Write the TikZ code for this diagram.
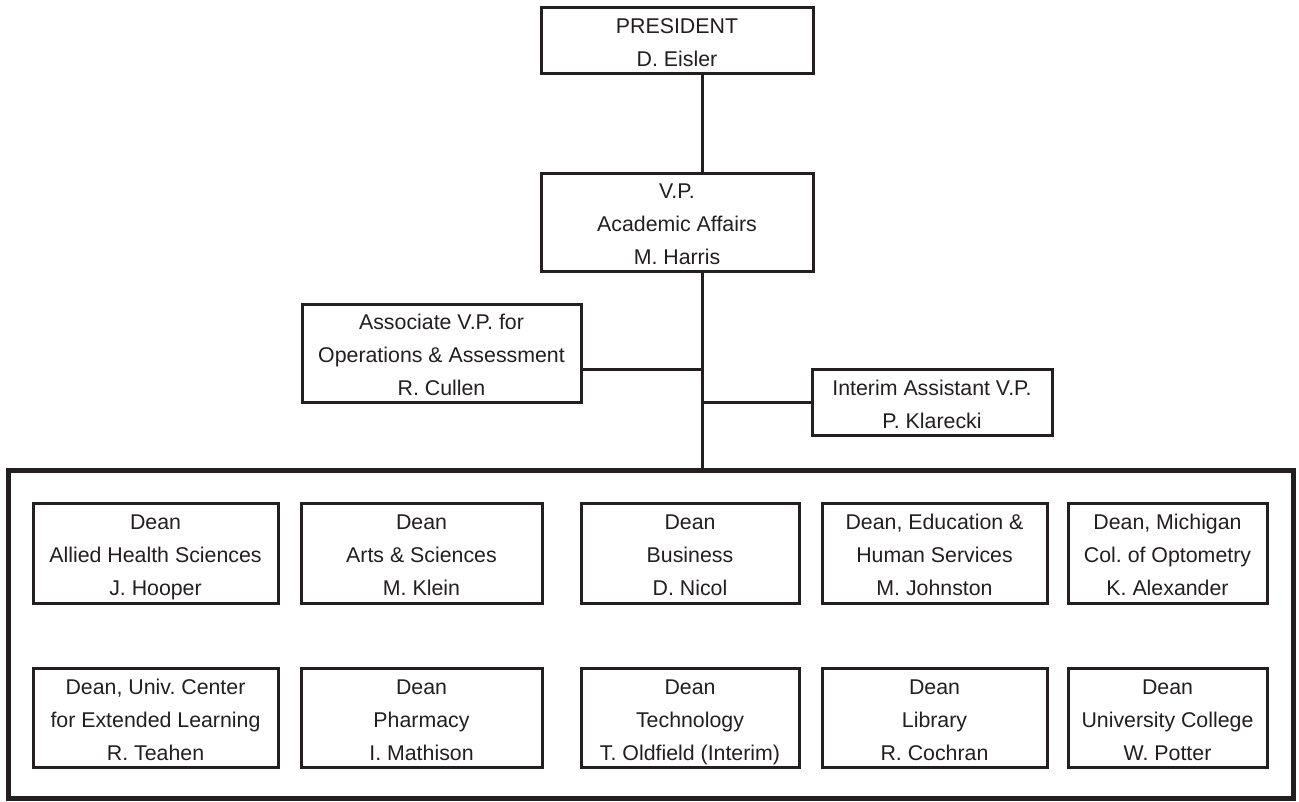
\documentclass[tikz,border=0pt]{standalone}
\usepackage{fontspec}
\setmainfont{Liberation Sans}
\definecolor{ink}{RGB}{35,31,32}
\newcommand\topst{\rule{0pt}{18pt}}
\newcommand\botst{\rule[-3.75pt]{0pt}{3.75pt}}
\frenchspacing
\begin{document}
\begin{tikzpicture}[x=0.75pt,y=-0.75pt,
  box/.style={draw=ink, text=ink, line width=2.25pt, inner sep=0pt, align=center,
    font=\fontsize{16}{24.75}\selectfont\frenchspacing},
  frame/.style={draw=ink, line width=3.75pt, inner sep=0pt},
  link/.style={draw=ink, line width=2.25pt},
  r1/.style={box, minimum height=75pt},
  r2/.style={box, minimum height=74.25pt}]
\useasboundingbox[fill=white] (0,0) rectangle (1299,801);
\coordinate (spine) at (702,0);
\node[box, minimum width=204pt, minimum height=49.5pt] (pres) at (677,40) {\topst PRESIDENT\\D. Eisler\botst};
\node[box, minimum width=204pt, minimum height=73.5pt] (vp) at (677,222) {\topst V.P.\\Academic Affairs\\M. Harris\botst};
\node[box, minimum width=209.25pt, minimum height=73.5pt] (assoc) at (441.5,353) {\topst Associate V.P. for\\Operations \& Assessment\\R. Cullen\botst};
\node[box, minimum width=180pt, minimum height=49.5pt] (interim) at (932,402) {\topst Interim Assistant V.P.\\P. Klarecki\botst};
\node[frame, minimum width=963.75pt, minimum height=246pt] (deans) at (650.5,634) {};
\coordinate (ja) at (702,369);
% row 1
\node[r1, minimum width=183.75pt] (d1) at (155.5,553) {\topst Dean\\Allied Health Sciences\\J. Hooper\botst};
\node[r1, minimum width=180.75pt] (d2) at (421.5,553) {\topst Dean\\Arts \& Sciences\\M. Klein\botst};
\node[r1, minimum width=163.5pt] (d3) at (690,553) {\topst Dean\\Business\\D. Nicol\botst};
\node[r1, minimum width=168.75pt] (d4) at (934.5,553) {\topst Dean, Education \&\\Human Services\\M. Johnston\botst};
\node[r1, minimum width=149.25pt] (d5) at (1167.5,553) {\topst Dean, Michigan\\Col. of Optometry\\K. Alexander\botst};
% row 2
\node[r2, minimum width=183.75pt] (e1) at (155.5,717.5) {\topst Dean, Univ. Center\\for Extended Learning\\R. Teahen\botst};
\node[r2, minimum width=180.75pt] (e2) at (421.5,717.5) {\topst Dean\\Pharmacy\\I. Mathison\botst};
\node[r2, minimum width=163.5pt] (e3) at (690,717.5) {\topst Dean\\Technology\\T. Oldfield (Interim)\botst};
\node[r2, minimum width=168.75pt] (e4) at (934.5,717.5) {\topst Dean\\Library\\R. Cochran\botst};
\node[r2, minimum width=149.25pt] (e5) at (1167.5,717.5) {\topst Dean\\University College\\W. Potter\botst};
% connectors
\draw[link] (pres.south -| spine) -- (vp.north -| spine);
\draw[link] (vp.south -| spine) -- (deans.north -| spine);
\draw[link] (ja -| assoc.east) -- (ja);
\draw[link] (interim.west) -- (interim.west -| spine);
\end{tikzpicture}
\end{document}
